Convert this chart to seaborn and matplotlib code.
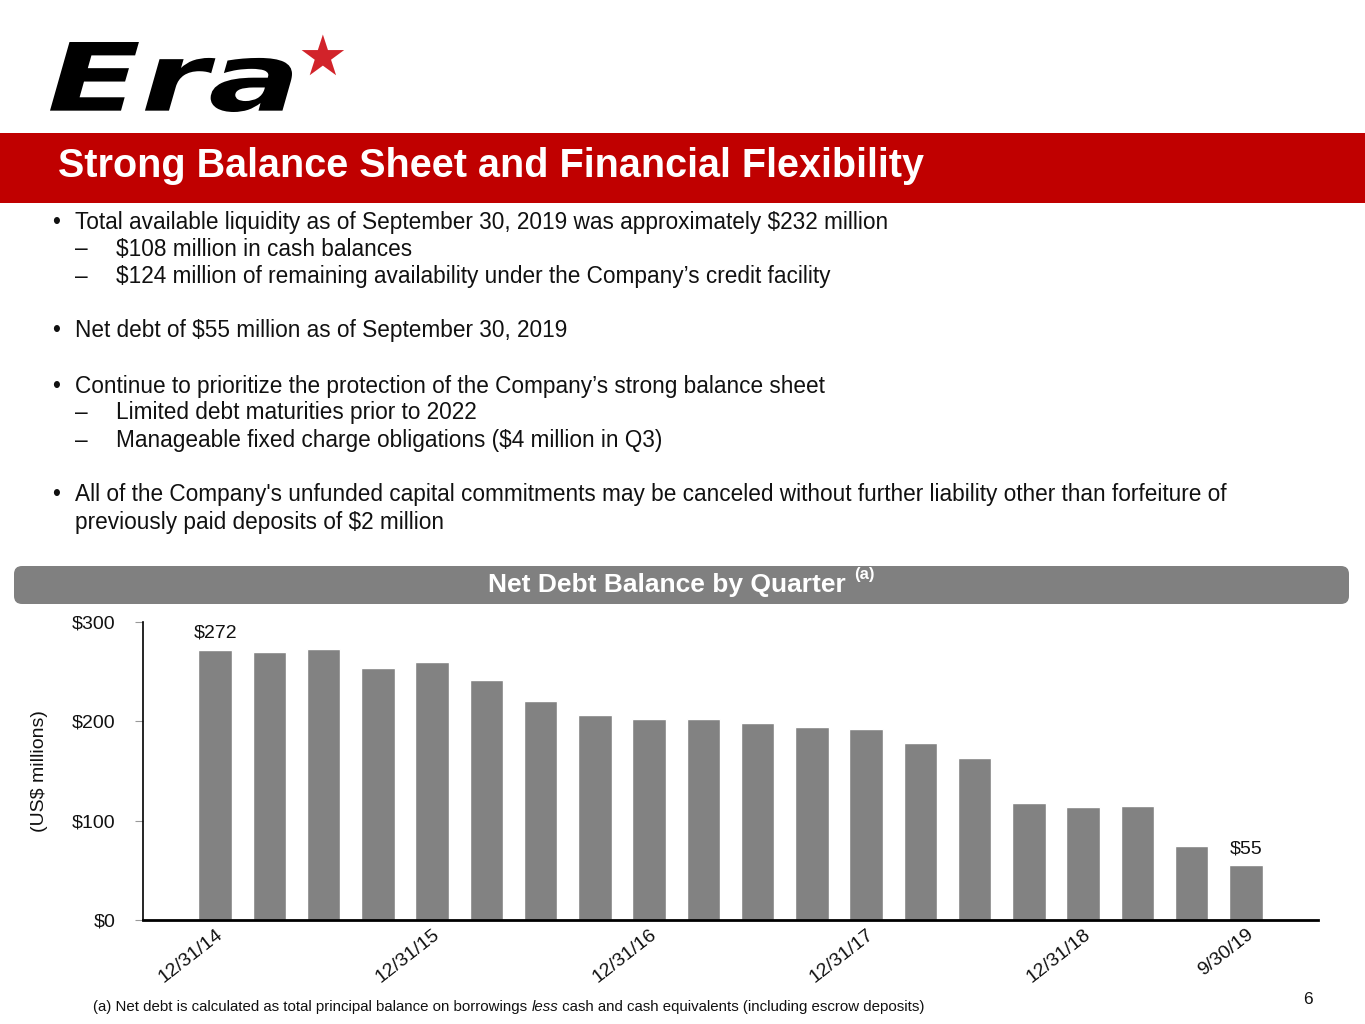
# Data Handling & Computation
import numpy as np
import pandas as pd

# Visualization Libraries
import matplotlib
matplotlib.use("Agg")
import matplotlib.pyplot as plt
import seaborn as sns
from matplotlib.patches import Rectangle, FancyBboxPatch, PathPatch
from matplotlib.textpath import TextPath
from matplotlib.font_manager import FontProperties
from matplotlib.transforms import Affine2D
from matplotlib.ticker import FuncFormatter

# ==============================
# Data
# ==============================

quarters = ["12/31/14", "3/31/15", "6/30/15", "9/30/15",
            "12/31/15", "3/31/16", "6/30/16", "9/30/16",
            "12/31/16", "3/31/17", "6/30/17", "9/30/17",
            "12/31/17", "3/31/18", "6/30/18", "9/30/18",
            "12/31/18", "3/31/19", "6/30/19", "9/30/19"]
net_debt = [272, 270, 273, 254, 260, 242, 220, 206, 202, 202,
            198, 194, 192, 178, 163, 118, 114, 115, 75, 55]
shown_ticks = ["12/31/14", "12/31/15", "12/31/16", "12/31/17", "12/31/18", "9/30/19"]
y_ticks = [0, 100, 200, 300]

bullets = [
    ("•", "Total available liquidity as of September 30, 2019 was approximately $232 million", 0),
    ("–", "$108 million in cash balances", 1),
    ("–", "$124 million of remaining availability under the Company’s credit facility", 1),
    ("•", "Net debt of $55 million as of September 30, 2019", 0),
    ("•", "Continue to prioritize the protection of the Company’s strong balance sheet", 0),
    ("–", "Limited debt maturities prior to 2022", 1),
    ("–", "Manageable fixed charge obligations ($4 million in Q3)", 1),
    ("•", "All of the Company's unfunded capital commitments may be canceled without further liability other than forfeiture of", 0),
    ("", "previously paid deposits of $2 million", 0),
]
bullet_y = [222, 249, 276, 331, 386, 413, 440, 495, 522]

# ==============================
# Plot Styling
# ==============================

sns.set_style("white")
plt.rcParams['font.family'] = ['Liberation Sans', 'DejaVu Sans']

W, H = 1365, 1024
bar_color = "#828282"
red = "#C00000"
text_color = "#111111"
body_size = 16.3

fig = plt.figure(figsize=(W / 100, H / 100), dpi=100)

def fx(px):
    return px / W

def fy(py):
    return 1 - py / H

# Logo: "Era" stretched into the logo box, plus a red star
logo_path = TextPath((0, 0), "Era", size=100,
                     prop=FontProperties(family='DejaVu Sans', weight='bold', style='italic'))
ext = logo_path.get_extents()
box_x0, box_x1, box_top, box_bot = 50, 292, 42, 112
sx = (box_x1 - box_x0) / ext.width
sy = (box_bot - box_top) / ext.height
logo_tf = (Affine2D().translate(-ext.x0, -ext.y0).scale(sx, sy)
           .translate(box_x0, H - box_bot).scale(1 / 100) + fig.dpi_scale_trans)
fig.patches.append(PathPatch(logo_path, transform=logo_tf, facecolor='black', edgecolor='none'))
fig.text(fx(322), fy(60), "★", fontsize=40, color="#D2232A", family='DejaVu Sans',
         va='center', ha='center')

# Red title band
fig.patches.append(Rectangle((0, fy(203)), 1, fy(133) - fy(203), transform=fig.transFigure,
                             facecolor=red, edgecolor='none', zorder=0))
fig.text(fx(58), fy(166), "Strong Balance Sheet and Financial Flexibility", color='white',
         fontsize=28.5, fontweight='bold', va='center', ha='left')

# Bullet text
for (marker, text, level), y in zip(bullets, bullet_y):
    mx, tx = (52, 75) if level == 0 else (75, 116)
    fig.text(fx(mx), fy(y), marker, fontsize=body_size, va='center', ha='left', color=text_color)
    fig.text(fx(tx), fy(y), text, fontsize=body_size, va='center', ha='left', color=text_color)

# Gray chart title bar
fig.patches.append(FancyBboxPatch((14 / 100, (H - 604) / 100), 1335 / 100, 38 / 100,
                                  boxstyle="round,pad=0,rounding_size=0.08",
                                  transform=fig.dpi_scale_trans,
                                  facecolor="#808080", edgecolor='none', zorder=0))
fig.text(fx(667), fy(585), "Net Debt Balance by Quarter", color='white', fontsize=19,
         fontweight='bold', va='center', ha='center')
fig.text(fx(854), fy(575), "(a)", color='white', fontsize=12, fontweight='bold',
         va='center', ha='left')

# ==============================
# Bar chart
# ==============================

df = pd.DataFrame({"quarter": quarters, "net_debt": net_debt})

ax = fig.add_axes([fx(143), fy(920), fx(1318) - fx(143), fy(622) - fy(920)])
sns.barplot(data=df, x="quarter", y="net_debt", color=bar_color, width=0.62,
            saturation=1, ax=ax)

ax.set_ylim(0, 300)
ax.set_xlim(-1.33, len(quarters) - 1 + 1.33)
ax.set_yticks(y_ticks)
ax.yaxis.set_major_formatter(FuncFormatter(lambda v, p: f"${v:,.0f}"))
ax.tick_params(axis='y', labelsize=14, length=6, width=0.8, color='#999999', pad=14,
               left=True, direction='out', labelcolor=text_color)

tick_pos = [quarters.index(q) for q in shown_ticks]
ax.set_xticks(tick_pos)
ax.set_xticklabels(shown_ticks, rotation=38, ha='right', rotation_mode='anchor', fontsize=14,
                   color=text_color)
ax.tick_params(axis='x', length=0, pad=4)

ax.set_xlabel("")
ax.set_ylabel("(US$ millions)", fontsize=14, color=text_color)
ax.yaxis.set_label_coords(-0.081, 0.5)

for side in ["top", "right"]:
    ax.spines[side].set_visible(False)
for side in ["left", "bottom"]:
    ax.spines[side].set_color('black')
ax.spines["left"].set_linewidth(1.2)
ax.spines["bottom"].set_linewidth(2.0)

# Data labels on first and last bars
for i in [0, len(net_debt) - 1]:
    ax.annotate(f"${net_debt[i]}", (i, net_debt[i]), xytext=(0, 6), textcoords='offset points',
                ha='center', va='bottom', fontsize=14, color=text_color)

# Footnote and page number
foot_size = 10.8
fig.text(fx(93), fy(1007), "(a) Net debt is calculated as total principal balance on borrowings ",
         fontsize=foot_size, va='center', ha='left', color=text_color)
fig.canvas.draw()
bb = fig.texts[-1].get_window_extent()
fig.text(bb.x1 / W, fy(1007), "less", fontsize=foot_size, fontstyle='italic', va='center',
         ha='left', color=text_color)
fig.canvas.draw()
bb2 = fig.texts[-1].get_window_extent()
fig.text(bb2.x1 / W, fy(1007), " cash and cash equivalents (including escrow deposits)",
         fontsize=foot_size, va='center', ha='left', color=text_color)
fig.text(fx(1308), fy(1000), "6", fontsize=12.5, va='center', ha='center', color=text_color)

fig.savefig("out.png", dpi=100)
